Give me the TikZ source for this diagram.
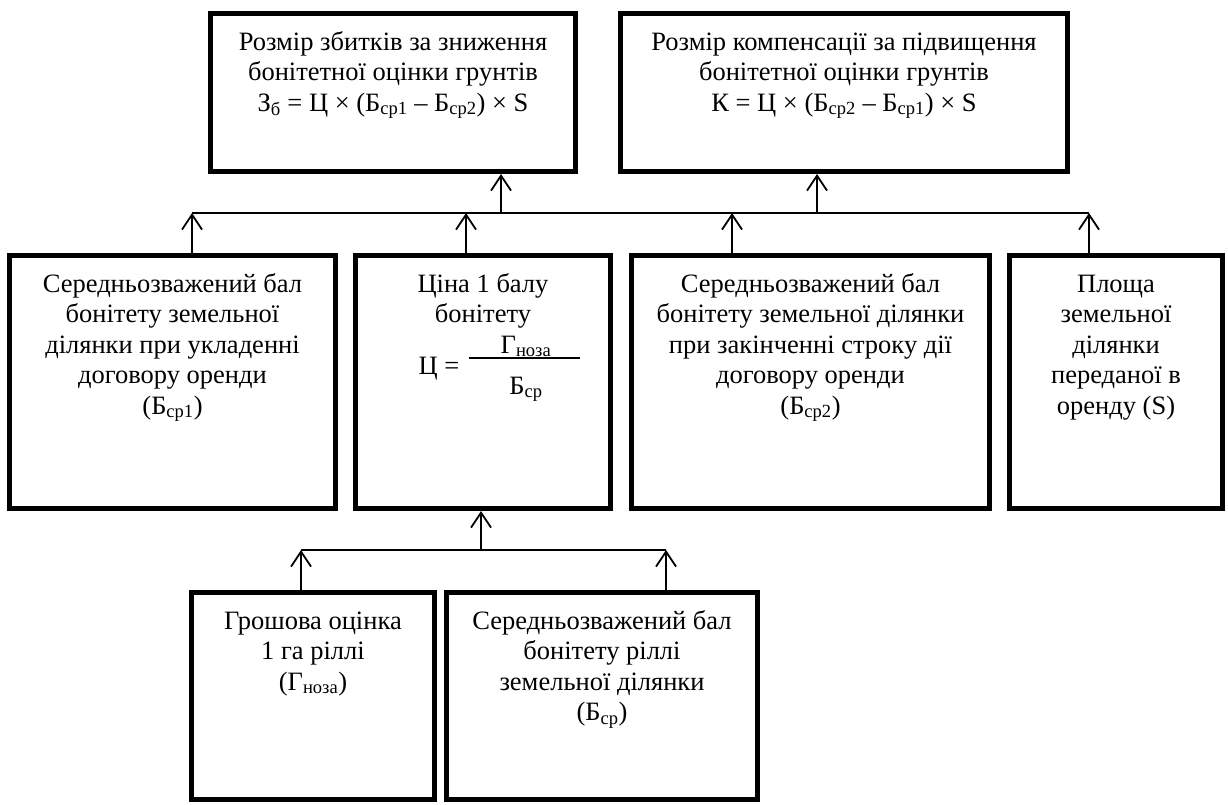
\documentclass[tikz,border=0pt]{standalone}
\usepackage{fontspec}
\setmainfont{Liberation Serif}
\usetikzlibrary{arrows.meta}
\begin{document}
\begin{tikzpicture}[x=1pt,y=-1pt,
  box/.style={draw, line width=5pt, inner sep=0pt, outer sep=2.5pt, anchor=north west},
  txt/.style={align=center, inner sep=0pt, font=\fontsize{26.5}{30.5}\selectfont},
  boxtxt/.style={txt, anchor=north, yshift=-17.6pt},
  ln/.style={line width=1.8pt},
  arr/.style={line width=1.8pt, -{Straight Barb[length=15pt,width=20pt]}}]
\useasboundingbox (0,0) rectangle (1228,805);
% top boxes
\node[box, minimum width=365pt, minimum height=158pt] (t1) at (208,11) {};
\node[box, minimum width=447pt, minimum height=158pt] (t2) at (618,11) {};
% middle boxes
\node[box, minimum width=326pt, minimum height=253pt] (bA) at (7,253) {};
\node[box, minimum width=255pt, minimum height=253pt] (bB) at (353,253) {};
\node[box, minimum width=358pt, minimum height=253pt] (bC) at (629,253) {};
\node[box, minimum width=213pt, minimum height=253pt] (bD) at (1007,253) {};
% lower boxes
\node[box, minimum width=243pt, minimum height=207pt] (bE) at (189,590) {};
\node[box, minimum width=311pt, minimum height=207pt] (bF) at (444,590) {};
% texts
\node[boxtxt] (t1t) at (t1.north) {\strut Розмір збитків за зниження\\бонітетної оцінки грунтів\\З\textsubscript{б} = Ц × (Б\textsubscript{ср1} – Б\textsubscript{ср2}) × S};
\node[boxtxt] (t2t) at (t2.north) {\strut Розмір компенсації за підвищення\\бонітетної оцінки грунтів\\К = Ц × (Б\textsubscript{ср2} – Б\textsubscript{ср1}) × S};
\node[boxtxt] (bAt) at (bA.north) {\strut Середньозважений бал\\бонітету земельної\\ділянки при укладенні\\договору оренди\\(Б\textsubscript{ср1})};
\node[boxtxt] (bBt) at (bB.north) {\strut Ціна 1 балу\\бонітету};
\node[boxtxt] (bCt) at (bC.north) {\strut Середньозважений бал\\бонітету земельної ділянки\\при закінченні строку дії\\договору оренди\\(Б\textsubscript{ср2})};
\node[boxtxt] (bDt) at (bD.north) {\strut Площа\\земельної\\ділянки\\переданої в\\оренду (S)};
\node[boxtxt] (bEt) at (bE.north) {\strut Грошова оцінка\\1 га ріллі\\(Г\textsubscript{ноза})};
\node[boxtxt] (bFt) at (bF.north) {\strut Середньозважений бал\\бонітету ріллі\\земельної ділянки\\(Б\textsubscript{ср})};
% formula in box B
\node[txt, anchor=base] (cq) at (439,374) {Ц =};
\node[txt, anchor=base] (num) at (526,353) {Г\textsubscript{ноза}};
\node[txt, anchor=base] (den) at (526,394) {Б\textsubscript{ср}};
\coordinate (fl1) at (469,358);
\coordinate (fl2) at (580,358);
\draw[ln] (fl1) -- (fl2);
% upper connector
\coordinate (jA) at (192,213);
\coordinate (jB) at (466,213);
\coordinate (jC) at (732,213);
\coordinate (jD) at (1089,213);
\coordinate (j1) at (501,213);
\coordinate (j2) at (817,213);
\draw[ln] (jA) -- (jD);
\draw[arr] (bA.north -| jA) -- (jA);
\draw[arr] (bB.north -| jB) -- (jB);
\draw[arr] (bC.north -| jC) -- (jC);
\draw[arr] (bD.north -| jD) -- (jD);
\draw[arr] (j1) -- (t1.south -| j1);
\draw[arr] (j2) -- (t2.south -| j2);
% lower connector
\coordinate (kE) at (301,550);
\coordinate (kF) at (666,550);
\coordinate (kB) at (481,550);
\draw[ln] (kE) -- (kF);
\draw[arr] (bE.north -| kE) -- (kE);
\draw[arr] (bF.north -| kF) -- (kF);
\draw[arr] (kB) -- (bB.south -| kB);
\end{tikzpicture}
\end{document}
